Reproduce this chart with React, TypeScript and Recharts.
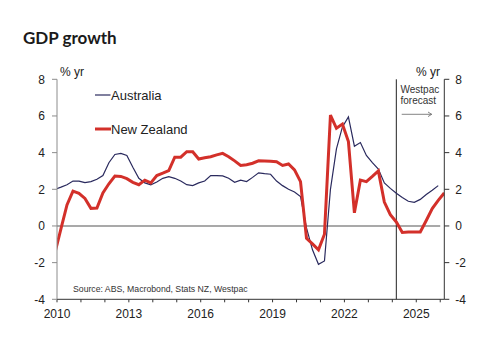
import React from 'react';
import { LineChart, Line, XAxis, YAxis, ReferenceLine } from 'recharts';

const quarters = [
  '2009-12',
  '2010-03', '2010-06', '2010-09', '2010-12',
  '2011-03', '2011-06', '2011-09', '2011-12',
  '2012-03', '2012-06', '2012-09', '2012-12',
  '2013-03', '2013-06', '2013-09', '2013-12',
  '2014-03', '2014-06', '2014-09', '2014-12',
  '2015-03', '2015-06', '2015-09', '2015-12',
  '2016-03', '2016-06', '2016-09', '2016-12',
  '2017-03', '2017-06', '2017-09', '2017-12',
  '2018-03', '2018-06', '2018-09', '2018-12',
  '2019-03', '2019-06', '2019-09', '2019-12',
  '2020-03', '2020-06', '2020-09', '2020-12',
  '2021-03', '2021-06', '2021-09', '2021-12',
  '2022-03', '2022-06', '2022-09', '2022-12',
  '2023-03', '2023-06', '2023-09', '2023-12',
  '2024-03', '2024-06', '2024-09', '2024-12',
  '2025-03', '2025-06', '2025-09', '2025-12',
  '2026-03',
];

const ausGrowth: (number | null)[] = [
  2.0,
  2.12, 2.25, 2.45, 2.45,
  2.36, 2.42, 2.55, 2.75,
  3.45, 3.9, 3.96, 3.85,
  3.2, 2.6, 2.35, 2.24,
  2.4, 2.6, 2.69, 2.6,
  2.45, 2.25, 2.2, 2.35,
  2.45, 2.75, 2.75, 2.73,
  2.6, 2.38, 2.5, 2.42,
  2.65, 2.9, 2.85, 2.82,
  2.45, 2.2, 2.0, 1.85,
  1.6, -0.1, -1.3, -2.09,
  -1.91, 2.0, 4.2, 5.4,
  5.95, 4.35, 4.55, 3.85,
  3.45, 3.1, 2.35, 2.05,
  1.78, 1.55, 1.35, 1.29,
  1.45, 1.72, 1.95, 2.2,
  null,
];

const nzGrowth: (number | null)[] = [
  -1.45,
  -0.15, 1.15, 1.9, 1.78,
  1.5, 0.96, 0.98, 1.8,
  2.3, 2.72, 2.7, 2.58,
  2.38, 2.25, 2.5, 2.35,
  2.75, 2.88, 3.02, 3.75,
  3.75, 4.05, 4.05, 3.65,
  3.72, 3.78, 3.88, 3.96,
  3.78, 3.55, 3.3, 3.34,
  3.42, 3.55, 3.54, 3.53,
  3.5, 3.3, 3.38, 3.06,
  2.42, -0.67, -0.98, -1.3,
  -0.45, 6.05, 5.33, 5.56,
  4.6, 0.72, 2.5, 2.42,
  2.7, 3.0, 1.3, 0.62,
  0.22, -0.35, -0.33, -0.33,
  -0.33, 0.3, 0.95, 1.4,
  1.8,
];

const yTicks = [-4, -2, 0, 2, 4, 6, 8];
const xTicks = [2010, 2011, 2012, 2013, 2014, 2015, 2016, 2017, 2018, 2019, 2020, 2021, 2022, 2023, 2024, 2025, 2026];
const xLabelYears = [2010, 2013, 2016, 2019, 2022, 2025];
const forecastStart = '2024-03';
const seriesNames = ['Australia', 'New Zealand'];

function toYear(q: string): number {
  const [y, m] = q.split('-').map(Number);
  return y + (m - 1) / 12;
}

const data = quarters.map((q, i) => ({ t: toYear(q), aus: ausGrowth[i], nz: nzGrowth[i] }));

const AUS = '#2a2a5e';
const NZ = '#d3302a';
const FONT = '"Liberation Sans", Arial, sans-serif';

export default function App() {
  return (
    <div style={{ position: 'absolute', left: 0, top: 0, width: 494, height: 348, background: '#fff', fontFamily: FONT }}>
      <LineChart width={494} height={348} data={data} margin={{ top: 79.3, right: 0, bottom: 18.7, left: 0 }}>
        <XAxis
          dataKey="t"
          type="number"
          domain={[2010, 2026.17]}
          allowDataOverflow
          ticks={xTicks}
          interval={0}
          tickFormatter={(v: number) => (xLabelYears.includes(v) ? String(v) : '')}
          tickSize={3}
          tickMargin={7}
          height={30}
          stroke="#333"
          tick={{ fill: '#222', fontSize: 12, fontFamily: FONT }}
        />
        <YAxis
          yAxisId="l"
          orientation="left"
          domain={[-4, 8]}
          ticks={yTicks}
          interval={0}
          width={57}
          tickSize={5}
          tickMargin={7}
          stroke="#8c8c8c"
          tick={{ fill: '#222', fontSize: 12, fontFamily: FONT }}
          allowDataOverflow
        />
        <YAxis
          yAxisId="r"
          orientation="right"
          domain={[-4, 8]}
          ticks={yTicks}
          interval={0}
          width={49.7}
          tickSize={5}
          tickMargin={6}
          stroke="#333"
          tick={{ fill: '#222', fontSize: 12, fontFamily: FONT }}
          allowDataOverflow
        />
        <ReferenceLine
          yAxisId="l"
          segment={[{ x: 2010, y: 0 }, { x: 2026, y: 0 }]}
          stroke="#8c8c8c"
          strokeWidth={1.5}
        />
        <ReferenceLine yAxisId="l" x={toYear(forecastStart)} stroke="#222" strokeWidth={1} />
        <Line
          yAxisId="l"
          dataKey="aus"
          name={seriesNames[0]}
          stroke={AUS}
          strokeWidth={1.2}
          dot={false}
          isAnimationActive={false}
          connectNulls={false}
        />
        <Line
          yAxisId="l"
          dataKey="nz"
          name={seriesNames[1]}
          stroke={NZ}
          strokeWidth={3}
          dot={false}
          isAnimationActive={false}
        />
      </LineChart>
      <svg width={494} height={348} style={{ position: 'absolute', left: 0, top: 0, pointerEvents: 'none' }}>
        <text x={23} y={44} fontFamily="Lato, sans-serif" fontWeight={700} fontSize={17} fill="#1a1a1a">GDP growth</text>
        <text x={60} y={76} fontFamily={FONT} fontSize={12} fill="#222">% yr</text>
        <text x={440} y={76} fontFamily={FONT} fontSize={12} fill="#222" textAnchor="end">% yr</text>
        <line x1={95} y1={95} x2={110.5} y2={95} stroke={AUS} strokeWidth={1.2} />
        <text x={111} y={100} fontFamily={FONT} fontSize={13} fill="#222">{seriesNames[0]}</text>
        <line x1={95} y1={129} x2={111} y2={129} stroke={NZ} strokeWidth={3} />
        <text x={111} y={133.5} fontFamily={FONT} fontSize={13} fill="#222">{seriesNames[1]}</text>
        <text x={73} y={292} fontFamily={FONT} fontSize={8.7} fill="#333">Source: ABS, Macrobond, Stats NZ, Westpac</text>
        <text x={400.5} y={93.3} fontFamily={FONT} fontSize={10} fill="#333">Westpac</text>
        <text x={400.5} y={103.5} fontFamily={FONT} fontSize={10} fill="#333">forecast</text>
        <line x1={401.7} y1={114.3} x2={431.7} y2={114.3} stroke="#666" strokeWidth={0.8} />
        <polyline points="428,112 431.7,114.3 428,116.6" fill="none" stroke="#666" strokeWidth={0.8} />
      </svg>
    </div>
  );
}
